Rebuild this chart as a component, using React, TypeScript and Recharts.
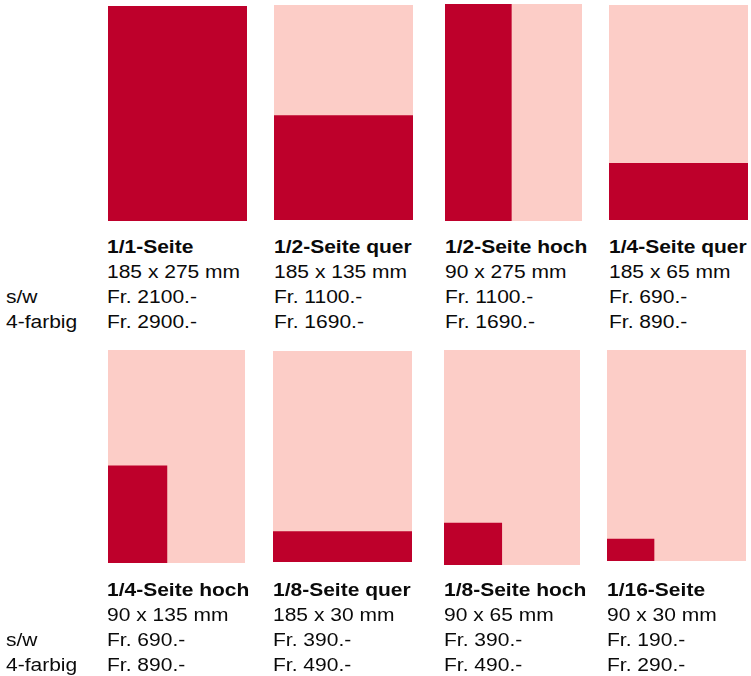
import React from "react";
import { AreaChart, Area, XAxis, YAxis } from "recharts";

// page format in mm
const PAGE_W = 185;
const PAGE_H = 275;

const formats = [
  "1/1-Seite",
  "1/2-Seite quer",
  "1/2-Seite hoch",
  "1/4-Seite quer",
  "1/4-Seite hoch",
  "1/8-Seite quer",
  "1/8-Seite hoch",
  "1/16-Seite",
];
const formatW = [185, 185, 90, 185, 90, 185, 90, 90];
const formatH = [275, 135, 275, 65, 135, 30, 65, 30];
const priceSw = [2100, 1100, 1100, 690, 690, 390, 390, 190];
const price4c = [2900, 1690, 1690, 890, 890, 490, 490, 290];
// size of the red block as it is drawn in the picture (mm on the page scale)
const drawnW = [185, 185, 90, 185, 80, 185, 79, 63];
const drawnH = [275, 134, 275, 73, 126, 40, 54, 29];
const rowLabels = ["s/w", "4-farbig"];

// left, top, width, height of each page thumbnail
const boxes = [
  [108, 6, 139, 215],
  [274, 5, 139, 215],
  [445, 4, 137, 217],
  [609, 5, 139, 215],
  [108, 350, 137, 213],
  [273, 351, 139, 211],
  [444, 350, 136, 215],
  [607, 350, 139, 211],
];
const textX = [107, 274, 445, 609, 107, 273, 444, 607];
const rowTextTop = [235, 577.5];

const DARK = "#BE002B";
const LIGHT = "#FCCDC7";
const FONT = "'Liberation Sans', Arial, sans-serif";

const textStyle: React.CSSProperties = {
  position: "absolute",
  fontFamily: FONT,
  fontSize: 17.5,
  lineHeight: "25px",
  color: "#0a0a0a",
  whiteSpace: "nowrap",
  transform: "scaleX(1.2)",
  transformOrigin: "left top",
};

const PagePanel = ({ i }: { i: number }) => {
  const [left, top, width, height] = boxes[i];
  const w = drawnW[i];
  const h = drawnH[i];
  const data = [
    { x: 0, page: PAGE_H, ad: h },
    { x: w, page: PAGE_H, ad: h },
    { x: PAGE_W, page: PAGE_H, ad: w < PAGE_W ? null : h },
  ];
  return (
    <div style={{ position: "absolute", left, top }}>
      <AreaChart
        width={width}
        height={height}
        data={data}
        margin={{ top: 0, right: 0, bottom: 0, left: 0 }}
      >
        <XAxis dataKey="x" type="number" domain={[0, PAGE_W]} hide />
        <YAxis type="number" domain={[0, PAGE_H]} hide />
        <Area
          type="linear"
          dataKey="page"
          stroke="none"
          fill={LIGHT}
          fillOpacity={1}
          dot={false}
          activeDot={false}
          isAnimationActive={false}
        />
        <Area
          type="linear"
          dataKey="ad"
          stroke="none"
          fill={DARK}
          fillOpacity={1}
          dot={false}
          activeDot={false}
          isAnimationActive={false}
        />
      </AreaChart>
    </div>
  );
};

export default function App() {
  return (
    <div
      style={{
        position: "fixed",
        left: 0,
        top: 0,
        width: 751,
        height: 676,
        background: "#fff",
      }}
    >
      {formats.map((_, i) => (
        <PagePanel key={"p" + i} i={i} />
      ))}
      {formats.map((name, i) => (
        <div
          key={"t" + i}
          style={{ ...textStyle, left: textX[i], top: rowTextTop[i < 4 ? 0 : 1] }}
        >
          <div style={{ fontWeight: "bold" }}>{name}</div>
          <div>
            {formatW[i]} x {formatH[i]} mm
          </div>
          <div>Fr. {priceSw[i]}.-</div>
          <div>Fr. {price4c[i]}.-</div>
        </div>
      ))}
      {rowTextTop.map((t, r) => (
        <div key={"l" + r} style={{ ...textStyle, left: 6, top: t + 50 }}>
          {rowLabels.map((l) => (
            <div key={l}>{l}</div>
          ))}
        </div>
      ))}
    </div>
  );
}
